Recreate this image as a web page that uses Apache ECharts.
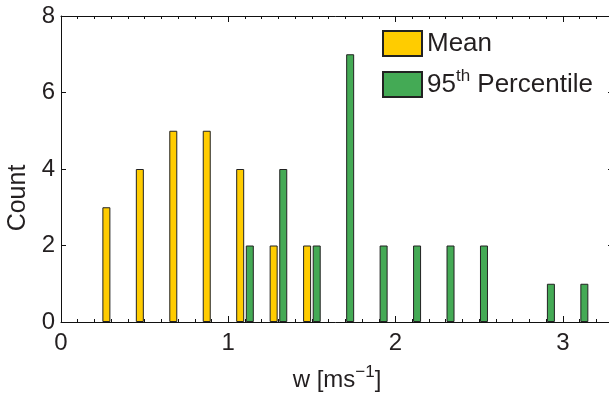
<!DOCTYPE html>
<html>
<head>
<meta charset="utf-8">
<script src="https://cdn.jsdelivr.net/npm/echarts@6/dist/echarts.min.js"></script>
<style>html,body{margin:0;padding:0;background:#fff}#c{width:609px;height:393px}</style>
</head>
<body>
<div id="c"></div>
<script>
// Bin centres (w, ms^-1) and counts
const meanBins = [0.3, 0.5, 0.7, 0.9, 1.1, 1.3, 1.5];
const meanCounts = [3, 4, 5, 5, 4, 2, 2];
const p95Bins = [1.1, 1.3, 1.5, 1.7, 1.9, 2.1, 2.3, 2.5, 2.9, 3.1];
const p95Counts = [2, 4, 2, 7, 2, 2, 2, 2, 1, 1];
const xTicks = [0, 1, 2, 3];
const yTicks = [0, 2, 4, 6, 8];

const FONT = '"Liberation Sans", Arial, sans-serif';
const TXT = '#231f20';
const chart = echarts.init(document.getElementById('c'), null, {renderer: 'canvas'});

const axisLineStyle = {color: '#111', width: 1};
const supStyle = {fontSize: 17, verticalAlign: 'top', color: TXT, fontFamily: FONT, padding: [0, 0, 16, 0]};
function xAxisBase(pos, showLabels) {
  return {
    type: 'value', position: pos, min: 0, max: 3.3, interval: 1,
    axisLine: {show: true, onZero: false, lineStyle: axisLineStyle},
    axisTick: {show: true, inside: true, length: 6, lineStyle: axisLineStyle},
    minorTick: {show: true, splitNumber: 10, length: 3, lineStyle: {color: '#111', width: 1}},
    splitLine: {show: false}, minorSplitLine: {show: false},
    axisLabel: {show: showLabels, margin: 9, color: TXT, fontFamily: FONT, fontSize: 24,
      formatter: v => xTicks.indexOf(v) >= 0 ? String(v) : ''}
  };
}
function yAxisBase(pos, showLabels) {
  return {
    type: 'value', position: pos, min: 0, max: 8, interval: 2,
    axisLine: {show: true, onZero: false, lineStyle: axisLineStyle},
    axisTick: {show: true, inside: true, length: 5, lineStyle: axisLineStyle},
    splitLine: {show: false},
    axisLabel: {show: showLabels, margin: 6, color: TXT, fontFamily: FONT, fontSize: 24,
      formatter: v => yTicks.indexOf(v) >= 0 ? String(v) : ''}
  };
}

const xBottom = Object.assign(xAxisBase('bottom', true), {
  name: 'w [ms{sup|\u22121}]', nameLocation: 'middle', nameGap: 42,
  nameTextStyle: {color: TXT, fontFamily: FONT, fontSize: 24, rich: {sup: supStyle}}
});
const xTop = xAxisBase('top', false);
const yLeft = Object.assign(yAxisBase('left', true), {
  name: 'Count', nameLocation: 'middle', nameGap: 27, nameRotate: 90,
  nameTextStyle: {color: TXT, fontFamily: FONT, fontSize: 25, padding: [0, 58, 0, 0]}
});
const yRight = yAxisBase('right', false);

chart.setOption({
  animation: false,
  backgroundColor: '#fff',
  grid: {left: 61, top: 16, right: -4, bottom: 71, containLabel: false, outerBoundsMode: 'none'},
  xAxis: [xBottom, xTop],
  yAxis: [yLeft, yRight],
  legend: {
    orient: 'vertical', left: 382, top: 30, padding: 0,
    itemWidth: 39, itemHeight: 25, itemGap: 11,
    icon: 'rect',
    textStyle: {color: TXT, fontFamily: FONT, fontSize: 26, rich: {sup: supStyle}},
    formatter: n => n === '95th Percentile' ? '95{sup|th} Percentile' : n,
    data: ['Mean', '95th Percentile']
  },
  series: [
    {
      name: 'Mean', type: 'bar', xAxisIndex: 0, yAxisIndex: 0,
      barWidth: 8, barGap: '20%',
      itemStyle: {color: '#FFCC00', borderColor: '#222', borderWidth: 1},
      data: meanBins.map((b, i) => [b, meanCounts[i]])
    },
    {
      name: '95th Percentile', type: 'bar', xAxisIndex: 0, yAxisIndex: 0,
      barWidth: 8, barGap: '20%',
      itemStyle: {color: '#44AA55', borderColor: '#222', borderWidth: 1},
      data: p95Bins.map((b, i) => [b, p95Counts[i]])
    }
  ]
});
</script>
</body>
</html>
